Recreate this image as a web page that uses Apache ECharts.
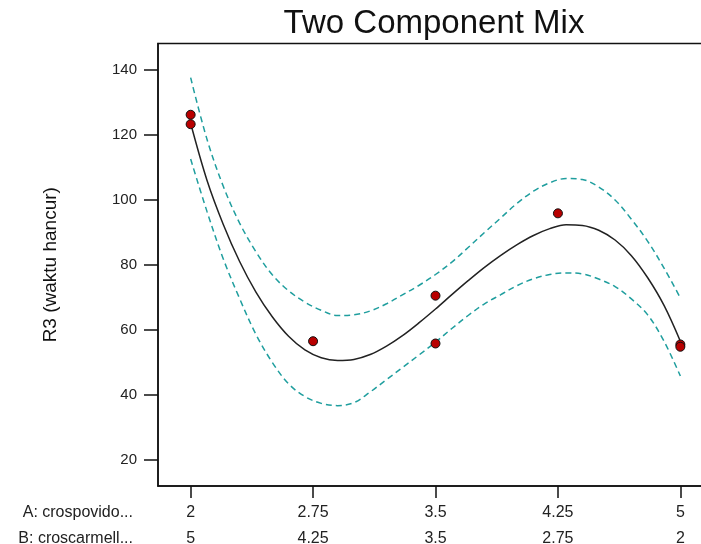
<!DOCTYPE html>
<html>
<head>
<meta charset="utf-8">
<script src="https://cdn.jsdelivr.net/npm/echarts@6/dist/echarts.min.js"></script>
<style>html,body{margin:0;padding:0;background:#fff;}#c{width:701px;height:544px;}</style>
</head>
<body>
<div id="c"></div>
<script>
// Tick values and labels
var xTicks = [2, 2.75, 3.5, 4.25, 5];
var aLabels = ['2', '2.75', '3.5', '4.25', '5'];
var bLabels = ['5', '4.25', '3.5', '2.75', '2'];
var yTicks = [20, 40, 60, 80, 100, 120, 140];
var rowHeaders = ['A: crospovido...', 'B: croscarmell...'];

// Curve sampling positions (A: crospovidone)
var curveA = [2.0,2.1,2.2,2.3,2.4,2.5,2.6,2.7,2.8,2.9,3.0,3.1,3.2,3.3,3.4,3.5,3.6,3.7,3.8,3.9,4.0,4.1,4.2,4.3,4.4,4.5,4.6,4.7,4.8,4.9,5.0];
// Fitted R3
var fitY = [123.5,106.0,92.4,81.0,71.6,64.0,58.0,53.8,51.4,50.6,50.9,52.4,55.0,58.3,62.2,66.4,70.8,75.1,79.2,82.9,86.2,89.0,91.1,92.3,92.1,90.6,87.6,82.8,76.0,67.5,56.5];
// Upper 95% confidence band
var upperY = [137.5,118.6,104.1,92.8,84.0,76.9,72.0,68.5,66.0,64.4,64.6,65.8,68.0,70.8,73.7,77.0,80.8,85.3,89.9,94.4,98.9,102.6,105.2,106.5,106.2,103.9,99.9,94.0,87.2,79.0,69.8];
// Lower 95% confidence band
var lowerY = [112.5,96.4,81.8,69.6,58.6,50.0,43.4,39.5,37.4,36.7,37.6,40.9,44.7,48.5,52.3,56.2,60.4,64.4,68.0,70.8,73.6,75.7,77.0,77.5,77.2,75.6,73.3,69.5,64.6,56.5,45.8];

// Design points
var pointA = [2, 2, 2.75, 3.5, 3.5, 4.25, 5, 5];
var pointR3 = [126.1, 123.2, 56.5, 70.5, 55.8, 95.8, 55.5, 54.8];

function pairs(xs, ys) { return xs.map(function (x, i) { return [x, ys[i]]; }); }

var FONT = 'Liberation Sans, Arial, sans-serif';
var TEAL = '#1f9e9e';

var chart = echarts.init(document.getElementById('c'), null, { renderer: 'canvas' });
chart.setOption({
  animation: false,
  backgroundColor: '#fff',
  title: {
    text: 'Two Component Mix',
    left: 429, top: 2, textAlign: 'center',
    textStyle: { fontFamily: FONT, fontSize: 33, fontWeight: 'normal', color: '#111' }
  },
  grid: {
    left: 158, right: -12, top: 43.5, bottom: 58,
    outerBoundsMode: 'none', containLabel: false,
    show: true, borderColor: '#111', borderWidth: 1.5, backgroundColor: '#fff'
  },
  xAxis: {
    type: 'value', min: 1.8, max: 5.2,
    splitLine: { show: false },
    axisLine: { show: true, onZero: false, lineStyle: { color: '#111', width: 1.5 } },
    axisTick: { show: true, customValues: xTicks, length: 12, lineStyle: { color: '#111', width: 1.5 } },
    axisLabel: {
      customValues: xTicks, margin: 14,
      fontFamily: FONT, fontSize: 16, color: '#222', lineHeight: 26,
      formatter: function (v) {
        var i = xTicks.indexOf(v);
        return i < 0 ? '' : aLabels[i] + '\n' + bLabels[i];
      }
    }
  },
  yAxis: {
    type: 'value', min: 12, max: 148,
    name: 'R3 (waktu hancur)', nameLocation: 'middle', nameGap: 98, nameRotate: 90,
    nameTextStyle: { fontFamily: FONT, fontSize: 19, color: '#111' },
    splitLine: { show: false },
    axisLine: { show: true, lineStyle: { color: '#111', width: 1.5 } },
    axisTick: { show: true, customValues: yTicks, length: 14, lineStyle: { color: '#111', width: 1.5 } },
    axisLabel: { customValues: yTicks, margin: 21, fontFamily: FONT, fontSize: 15, color: '#222' }
  },
  graphic: [
    { type: 'text', right: 568, top: 505,
      style: { text: rowHeaders[0], font: '16px ' + FONT, fill: '#222', textAlign: 'right' } },
    { type: 'text', right: 568, top: 531,
      style: { text: rowHeaders[1], font: '16px ' + FONT, fill: '#222', textAlign: 'right' } }
  ],
  series: [
    { type: 'line', data: pairs(curveA, upperY), smooth: 0.35, symbol: 'none',
      lineStyle: { color: TEAL, width: 1.5, type: [6, 4] }, z: 2 },
    { type: 'line', data: pairs(curveA, lowerY), smooth: 0.35, symbol: 'none',
      lineStyle: { color: TEAL, width: 1.5, type: [6, 4] }, z: 2 },
    { type: 'line', data: pairs(curveA, fitY), smooth: 0.35, symbol: 'none',
      lineStyle: { color: '#222', width: 1.5 }, z: 3 },
    { type: 'scatter', data: pairs(pointA, pointR3), symbol: 'circle', symbolSize: 9,
      itemStyle: { color: '#b80000', borderColor: '#111', borderWidth: 1, opacity: 1 }, z: 4 }
  ]
});
</script>
</body>
</html>
